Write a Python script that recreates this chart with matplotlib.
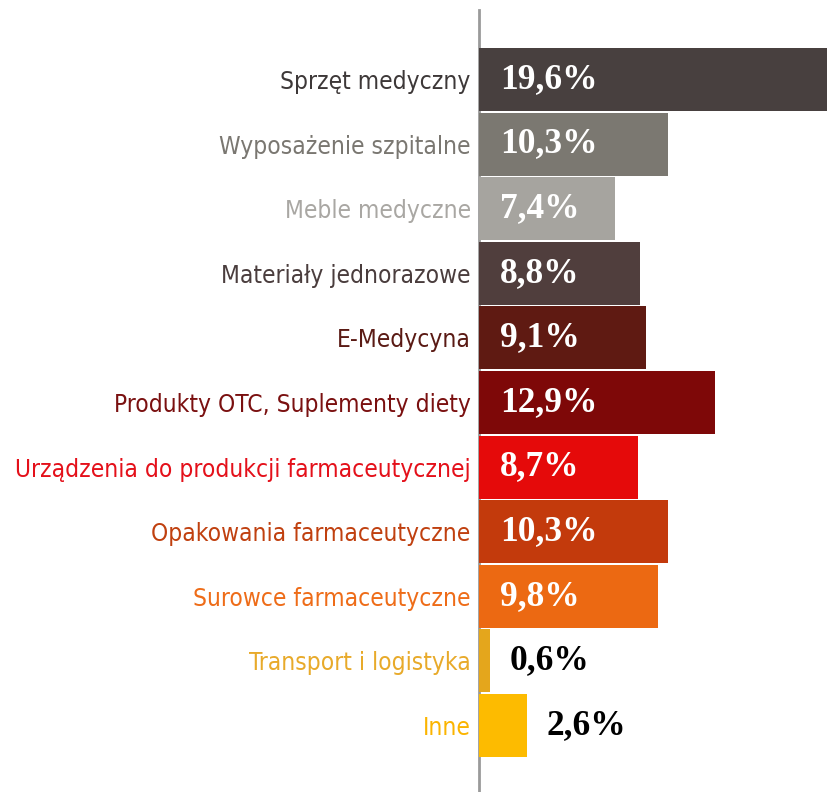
import matplotlib.pyplot as plt

# data
categories = [
    "Sprzęt medyczny",
    "Wyposażenie szpitalne",
    "Meble medyczne",
    "Materiały jednorazowe",
    "E-Medycyna",
    "Produkty OTC, Suplementy diety",
    "Urządzenia do produkcji farmaceutycznej",
    "Opakowania farmaceutyczne",
    "Surowce farmaceutyczne",
    "Transport i logistyka",
    "Inne",
]
shares = [19.6, 10.3, 7.4, 8.8, 9.1, 12.9, 8.7, 10.3, 9.8, 0.6, 2.6]
value_labels = ["19,6%", "10,3%", "7,4%", "8,8%", "9,1%", "12,9%",
                "8,7%", "10,3%", "9,8%", "0,6%", "2,6%"]

bar_colors = ["#48403f", "#7b7871", "#a6a49f", "#503e3d", "#5f1a12", "#7e0808",
              "#e50a0a", "#c33a0c", "#ec6912", "#e4a61c", "#fdbb00"]
label_colors = ["#3d3838", "#7a7771", "#a9a7a3", "#4a3d3d", "#5a1a14", "#7a1010",
                "#e4101a", "#c0400f", "#ee6c18", "#e8aa2a", "#fbb400"]

fig = plt.figure(figsize=(8.27, 7.92), dpi=100)
ax = fig.add_axes([0.5792, 0.0, 0.4208, 0.9874])

y = list(range(len(categories)))
ax.barh(y, shares, height=0.975, color=bar_colors)

ax.set_xlim(0, 19.0)
ax.set_ylim(11.03, -1.076)

ax.set_yticks(y)
ax.set_yticklabels(categories, family="DejaVu Sans", stretch="condensed",
                   fontsize=17.6)
for lbl, c in zip(ax.get_yticklabels(), label_colors):
    lbl.set_color(c)
ax.tick_params(axis="y", length=0, pad=6)
ax.set_xticks([])

for side in ["top", "right", "bottom"]:
    ax.spines[side].set_visible(False)
ax.spines["left"].set_color("#9a9a9a")
ax.spines["left"].set_linewidth(2)
ax.spines["left"].set_zorder(0)

# value labels: inside for long bars, outside for short ones
for i, (v, txt) in enumerate(zip(shares, value_labels)):
    if v > 3:
        ax.annotate(txt, (0, i), xytext=(15, 0), textcoords="offset points",
                    ha="left", va="center", color="white", fontsize=25.5,
                    fontweight="bold", family="Liberation Serif")
    else:
        ax.annotate(txt, (v, i), xytext=(14, 0), textcoords="offset points",
                    ha="left", va="center", color="black", fontsize=25.5,
                    fontweight="bold", family="Liberation Serif")

fig.savefig("out.png", dpi=100)
